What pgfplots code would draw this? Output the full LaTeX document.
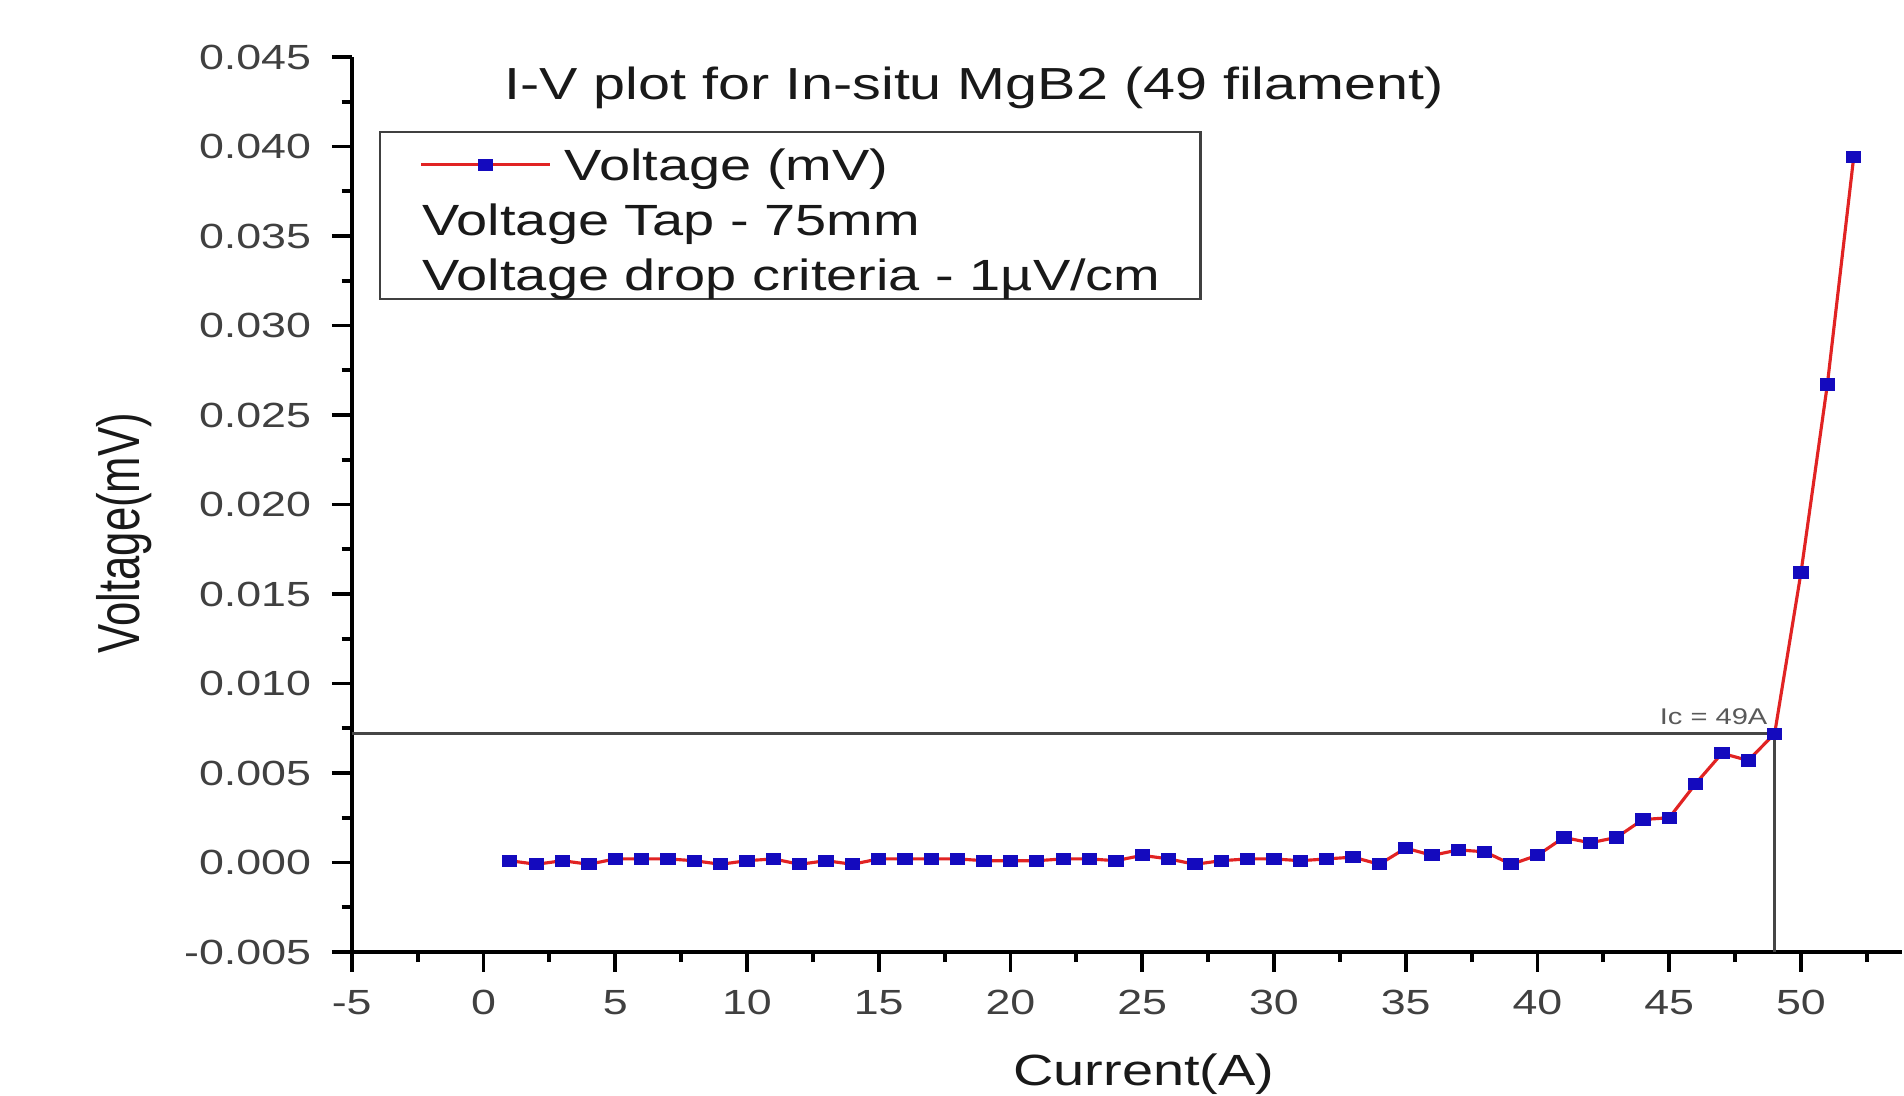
\documentclass[border=0pt]{standalone}
\usepackage{fontspec}
\setmainfont{Liberation Sans}[FakeStretch=1.28]
\newfontfamily\ylabfont{Liberation Sans}[FakeStretch=0.735]
\usepackage{pgfplots}
\pgfplotsset{compat=1.18}

\definecolor{plotred}{RGB}{225,35,35}
\definecolor{markblue}{RGB}{20,10,190}
\definecolor{crossgray}{RGB}{70,70,70}

\begin{document}
\begin{tikzpicture}
\path (-100.6pt,-41.1pt) rectangle (443.4pt,272.3pt);
\begin{axis}[
  at={(0pt,0pt)}, anchor=south west,
  scale only axis,
  width=443.4pt, height=256pt,
  xmin=-5, xmax=53.83, ymin=-0.005, ymax=0.045,
  axis x line*=bottom, axis y line*=left,
  axis line style={line width=1.2pt, black},
  tick align=outside,
  major tick length=5.7pt, minor tick length=2.9pt,
  every tick/.style={black, line width=1.1pt},
  xtick={-5,0,5,10,15,20,25,30,35,40,45,50},
  ytick={-0.005,0,0.005,0.01,0.015,0.02,0.025,0.03,0.035,0.04,0.045},
  minor xtick={-2.5,2.5,7.5,12.5,17.5,22.5,27.5,32.5,37.5,42.5,47.5,52.5},
  minor y tick num=1,
  scaled y ticks=false,
  /pgf/number format/assume math mode=true,
  xticklabel style={font=\fontsize{10}{12}\selectfont, text=black!75, yshift=-1.7pt},
  yticklabel style={font=\fontsize{10}{12}\selectfont, text=black!75, xshift=-2.4pt,
    /pgf/number format/.cd, fixed, fixed zerofill, precision=3},
  xlabel={Current(A)},
  xlabel style={at={(axis cs:25.06,-0.01248)}, anchor=base, inner sep=0pt,
    font=\fontsize{12.5}{15}\selectfont, text=black!90},
  ylabel={Voltage(mV)},
  ylabel style={at={(axis cs:-13.05,0.0184)}, anchor=base, inner sep=0pt,
    font=\ylabfont\fontsize{17}{20}\selectfont, text=black!90},
  legend image code/.code={\draw[#1, yshift=-1.25pt, mark repeat=2, mark phase=2]
    plot coordinates {(0pt,0pt) (18.5pt,0pt) (37pt,0pt)};},
  legend cell align=left,
  legend style={at={(axis cs:-3.98,0.04087)}, anchor=north west,
    draw=black!75, line width=0.6pt,
    inner xsep=11.4pt, inner ysep=1.2pt, row sep=1.8pt, column sep=3.7pt,
    font=\fontsize{12.5}{15}\selectfont, text=black!90,
    nodes={inner sep=0pt, text height=12.7pt, text depth=1.2pt}},
]
\addplot[crossgray, line width=0.7pt, forget plot]
  coordinates {(-5,0.0072) (49,0.0072) (49,-0.005)};

\addplot[plotred, line width=0.9pt, mark=square*, mark size=1.6pt,
  mark options={fill=markblue, draw=markblue, xscale=1.28, line width=0pt}]
  coordinates {
  (1,0.0001) (2,-0.0001) (3,0.0001) (4,-0.0001) (5,0.0002)
  (6,0.0002) (7,0.0002) (8,0.0001) (9,-0.0001) (10,0.0001)
  (11,0.0002) (12,-0.0001) (13,0.0001) (14,-0.0001) (15,0.0002)
  (16,0.0002) (17,0.0002) (18,0.0002) (19,0.0001) (20,0.0001)
  (21,0.0001) (22,0.0002) (23,0.0002) (24,0.0001) (25,0.0004)
  (26,0.0002) (27,-0.0001) (28,0.0001) (29,0.0002) (30,0.0002)
  (31,0.0001) (32,0.0002) (33,0.0003) (34,-0.0001) (35,0.0008)
  (36,0.0004) (37,0.0007) (38,0.0006) (39,-0.0001) (40,0.0004)
  (41,0.0014) (42,0.0011) (43,0.0014) (44,0.0024) (45,0.0025)
  (46,0.0044) (47,0.0061) (48,0.0057) (49,0.0072) (50,0.0162)
  (51,0.0267) (52,0.0394)
  };
\addlegendentry{Voltage (mV)}
\addlegendimage{empty legend}
\addlegendentry{\hspace*{-40.7pt}Voltage Tap - 75mm}
\addlegendimage{empty legend}
\addlegendentry{\hspace*{-40.7pt}Voltage drop criteria - 1µV/cm}

\node[anchor=base west, inner sep=0pt, font=\fontsize{12.85}{15}\selectfont, text=black!90]
  at (axis cs:0.76,0.0426) {I-V plot for In-situ MgB2 (49 filament)};
\node[anchor=base east, inner sep=0pt, font=\fontsize{6.5}{7}\selectfont, text=black!65]
  at (axis cs:48.75,0.0077) {Ic = 49A};
\end{axis}
\end{tikzpicture}
\end{document}
